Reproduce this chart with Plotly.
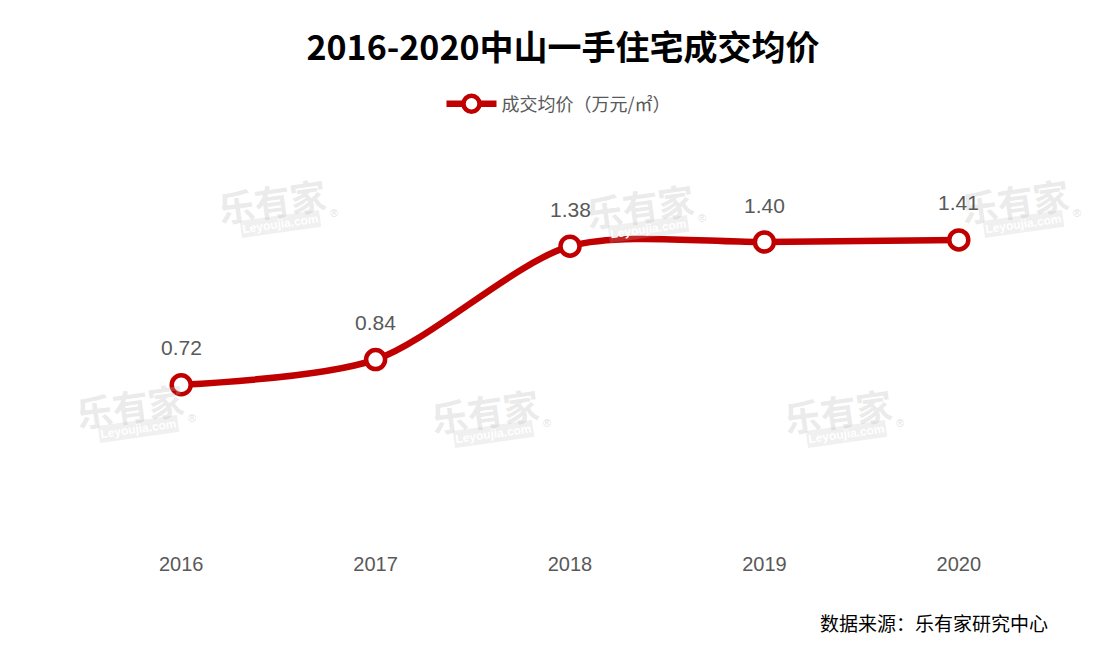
import plotly.graph_objects as go

years = ["2016", "2017", "2018", "2019", "2020"]
prices = [0.72, 0.84, 1.38, 1.40, 1.41]
series_name = "成交均价（万元/㎡）"
title_text = "2016-2020中山一手住宅成交均价"
source_text = "数据来源：乐有家研究中心"

RED = "#c00000"
GRAY = "#595959"

# plot area in pixels
L, R, T, B = 84, 1056, 158, 536
W, H = R - L, B - T


def px2paper(px, py):
    return (px - L) / W, (B - py) / H


fig = go.Figure()
fig.add_trace(go.Scatter(
    x=years, y=prices, name=series_name,
    mode="lines+markers",
    line=dict(color=RED, width=6.5, shape="spline", smoothing=0.8),
    marker=dict(size=19, color="white", line=dict(color=RED, width=4.5)),
    cliponaxis=False,
))

annotations = []
# watermarks
wm_xy = [(272, 200), (640, 205), (1015, 200), (130, 405), (485, 410), (838, 410)]
for (px, py) in wm_xy:
    x1, y1 = px2paper(px, py)
    annotations.append(dict(
        x=x1, y=y1, xref="paper", yref="paper",
        text="<b>乐有家</b>", showarrow=False, textangle=-8,
        font=dict(size=36, color="rgba(185,185,185,0.30)", family="Noto Sans CJK SC"),
        yanchor="middle", xanchor="center"))
    x2, y2 = px2paper(px + 8, py + 24)
    annotations.append(dict(
        x=x2, y=y2, xref="paper", yref="paper",
        text="<b>Leyoujia.com</b>", showarrow=False, textangle=-8,
        bgcolor="rgba(185,185,185,0.22)", borderpad=1,
        font=dict(size=12, color="rgba(255,255,255,1)", family="Liberation Sans"),
        yanchor="middle", xanchor="center"))
    x3, y3 = px2paper(px + 62, py + 13)
    annotations.append(dict(
        x=x3, y=y3, xref="paper", yref="paper",
        text="®", showarrow=False,
        font=dict(size=11, color="rgba(185,185,185,0.45)", family="Liberation Sans"),
        yanchor="middle", xanchor="center"))

# data labels
for i, v in enumerate(prices):
    annotations.append(dict(
        x=i, y=v, xref="x", yref="y", text=f"{v:.2f}", showarrow=False,
        yshift=37, font=dict(size=21, color=GRAY, family="Liberation Sans, Arial")))

sx, sy = px2paper(1050, 622)
annotations.append(dict(
    x=sx, y=sy, xref="paper", yref="paper",
    text=source_text, showarrow=False, xanchor="right", yanchor="middle",
    font=dict(size=19, color="black", family="Noto Sans CJK SC")))

lx, ly = px2paper(559, 104)

fig.update_layout(
    width=1106, height=657,
    paper_bgcolor="white", plot_bgcolor="white",
    margin=dict(l=L, r=1106 - R, t=T, b=657 - B),
    title=dict(text="<b>" + title_text + "</b>", x=563 / 1106, xanchor="center",
               xref="container", yref="container",
               y=1 - 48 / 657, yanchor="middle",
               font=dict(size=34, color="black", family="Noto Sans CJK SC")),
    showlegend=True,
    legend=dict(orientation="h", x=lx, xanchor="center", y=ly, yanchor="middle",
                font=dict(size=18, color=GRAY, family="Noto Sans CJK SC"),
                itemwidth=50, bgcolor="rgba(0,0,0,0)"),
    xaxis=dict(type="category", range=[-0.5, 4.5], showgrid=False, zeroline=False,
               showline=False, ticks="", tickfont=dict(size=20, color=GRAY, family="Liberation Sans, Arial"),
               ticklabelstandoff=14),
    yaxis=dict(range=[0, 1.8], visible=False, showgrid=False, zeroline=False),
    annotations=annotations,
)

fig.write_html("out.html")
